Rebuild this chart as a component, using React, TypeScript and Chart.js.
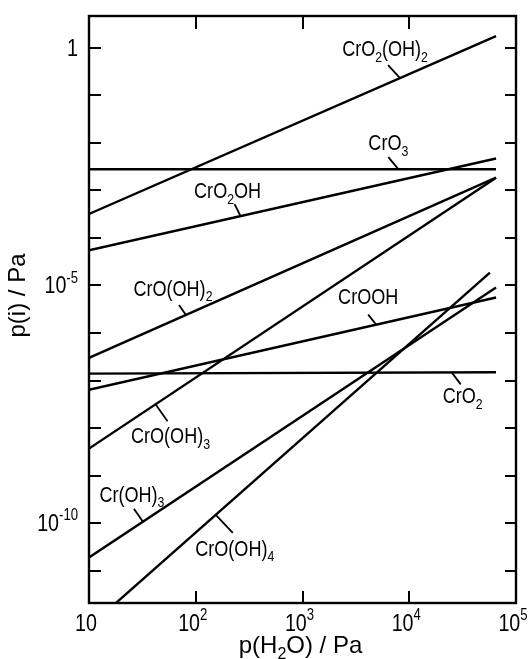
import { useEffect, useRef } from 'react';
import { Chart, registerables } from 'chart.js';
Chart.register(...registerables);

// ---- data ----
const pH2O = [10, 6.5e4];
const pH2OShort = [10, 5.7e4];

const speciesNames = [
  'CrO_2(OH)_2',
  'CrO_3',
  'CrO_2OH',
  'CrO(OH)_2',
  'CrOOH',
  'CrO_2',
  'CrO(OH)_3',
  'Cr(OH)_3',
  'CrO(OH)_4',
];
const pCrO2OH2 = [3.2e-4, 1.76];
const pCrO3 = [2.8e-3, 2.8e-3];
const pCrO2OH = [5.5e-5, 4.7e-3];
const pCrOOH2 = [3.0e-7, 1.86e-3];
const pCrOOH = [6.4e-8, 5.6e-6];
const pCrO2 = [1.4e-7, 1.5e-7];
const pCrOOH3 = [3.7e-9, 1.86e-3];
const pCrOH3 = [1.9e-11, 9.1e-6];
const pCrOOH4 = [6.6e-13, 1.86e-5];

const xTickValues = [10, 1e2, 1e3, 1e4, 1e5];
const xTickLabels = ['10', '10^2', '10^3', '10^4', '10^5'];
const xTickMarks = [1e2, 1e3, 1e4];
const yTickValues = [1, 1e-5, 1e-10];
const yTickLabels = ['1', '10^-5', '10^-10'];
const yTickMarks = [1, 1e-1, 1e-2, 1e-3, 1e-4, 1e-5, 1e-6, 1e-7, 1e-8, 1e-9, 1e-10, 1e-11];

const xTitle = 'p(H_2O) / Pa';
const yTitle = 'p(i) / Pa';

// ---- label layout (touch point on the line at pressure `at`; offsets in px) ----
const labelLayout = [
  { s: 0, at: 8.2e3, tx: -15, ty: -30, lx: -12, ly: -13 },
  { s: 1, at: 7.9e3, tx: -10, ty: -27, lx: -10, ly: -12 },
  { s: 2, at: 263, tx: -13, ty: -26, lx: -6, ly: -12 },
  { s: 3, at: 81, tx: -13, ty: -27, lx: -7, ly: -10 },
  { s: 4, at: 4.9e3, tx: -8, ty: -29, lx: -8, ly: -10 },
  { s: 5, at: 2.5e4, tx: 11, ty: 23, lx: 9, ly: 12 },
  { s: 6, at: 42, tx: 15, ty: 31, lx: 12, ly: 17 },
  { s: 7, at: 32, tx: -11, ty: -28, lx: -9, ly: -13 },
  { s: 8, at: 154, tx: 19, ty: 33, lx: 17, ly: 18 },
];

type Seg = { t: string; k: number };
function parseRich(s: string): Seg[] {
  const segs: Seg[] = [];
  let buf = '';
  let i = 0;
  while (i < s.length) {
    const c = s[i];
    if (c === '_') {
      if (buf) segs.push({ t: buf, k: 0 });
      buf = '';
      segs.push({ t: s[i + 1], k: -1 });
      i += 2;
      continue;
    }
    if (c === '^') {
      if (buf) segs.push({ t: buf, k: 0 });
      buf = '';
      segs.push({ t: s.slice(i + 1), k: 1 });
      break;
    }
    buf += c;
    i++;
  }
  if (buf) segs.push({ t: buf, k: 0 });
  return segs;
}

function drawRich(
  ctx: CanvasRenderingContext2D,
  s: string,
  x: number,
  baseline: number,
  size: number,
  align: 'left' | 'center' | 'right',
  family: string,
  sx: number
) {
  const segs = parseRich(s);
  const small = Math.round(size * 0.68);
  const fontFor = (k: number) => `${k === 0 ? size : small}px ${family}`;
  let w = 0;
  for (const sg of segs) {
    ctx.font = fontFor(sg.k);
    w += ctx.measureText(sg.t).width;
  }
  ctx.save();
  ctx.translate(x, baseline);
  ctx.scale(sx, 1);
  let cx = align === 'center' ? -w / 2 : align === 'right' ? -w : 0;
  ctx.textAlign = 'left';
  ctx.textBaseline = 'alphabetic';
  for (const sg of segs) {
    ctx.font = fontFor(sg.k);
    const dy = sg.k === -1 ? size * 0.25 : sg.k === 1 ? -size * 0.45 : 0;
    ctx.fillText(sg.t, cx, dy);
    cx += ctx.measureText(sg.t).width;
  }
  ctx.restore();
}

function pickFont(ctx: CanvasRenderingContext2D) {
  ctx.font = '40px "Liberation Sans Narrow", monospace';
  const a = ctx.measureText('CrOOH abc').width;
  ctx.font = '40px monospace';
  const b = ctx.measureText('CrOOH abc').width;
  if (Math.abs(a - b) < 0.01) return { family: '"Liberation Sans", Arial, sans-serif', sx: 0.82 };
  return { family: '"Liberation Sans Narrow", "Liberation Sans", sans-serif', sx: 1 };
}

const ink = '#000';

const decorPlugin = {
  id: 'decor',
  afterDatasetsDraw(chart: any) {
    const ctx: CanvasRenderingContext2D = chart.ctx;
    const { left, right, top, bottom } = chart.chartArea;
    const xs = chart.scales.x;
    const ys = chart.scales.y;
    const nf = pickFont(ctx);
    const regular = '"Liberation Sans", Arial, sans-serif';
    ctx.save();
    ctx.strokeStyle = ink;
    ctx.fillStyle = ink;
    ctx.lineWidth = 2.4;
    ctx.lineCap = 'butt';
    ctx.strokeRect(left, top, right - left, bottom - top);

    ctx.lineWidth = 2;
    ctx.beginPath();
    for (const v of yTickMarks) {
      const y = Math.round(ys.getPixelForValue(v));
      ctx.moveTo(left, y);
      ctx.lineTo(left + 12, y);
      ctx.moveTo(right, y);
      ctx.lineTo(right - 11, y);
    }
    for (const v of xTickMarks) {
      const x = Math.round(xs.getPixelForValue(v));
      ctx.moveTo(x, top);
      ctx.lineTo(x, top + 13);
      ctx.moveTo(x, bottom);
      ctx.lineTo(x, bottom - 12);
    }
    ctx.stroke();

    // tick labels
    xTickValues.forEach((v, i) => {
      const x = xs.getPixelForValue(v) - 3;
      drawRich(ctx, xTickLabels[i], x, bottom + 28, 24, 'center', nf.family, nf.sx);
    });
    yTickValues.forEach((v, i) => {
      const y = ys.getPixelForValue(v) - 1;
      drawRich(ctx, yTickLabels[i], 78, y + 9, 24, 'right', nf.family, nf.sx);
    });

    // axis titles
    drawRich(ctx, xTitle, xs.getPixelForValue(1e3) - 2, bottom + 50, 24, 'center', regular, 1);
    ctx.save();
    ctx.translate(25, ys.getPixelForValue(1e-5) + 10);
    ctx.rotate(-Math.PI / 2);
    drawRich(ctx, yTitle, 0, 0, 24, 'center', regular, 1);
    ctx.restore();

    // species labels with leader lines
    ctx.lineWidth = 1.8;
    for (const L of labelLayout) {
      const d = chart.data.datasets[L.s].data as { x: number; y: number }[];
      const lx0 = Math.log10(d[0].x);
      const lx1 = Math.log10(d[1].x);
      const t = (Math.log10(L.at) - lx0) / (lx1 - lx0);
      const ly = Math.log10(d[0].y) + t * (Math.log10(d[1].y) - Math.log10(d[0].y));
      const px = xs.getPixelForValue(L.at);
      const py = ys.getPixelForValue(Math.pow(10, ly));
      ctx.beginPath();
      ctx.moveTo(px, py);
      ctx.lineTo(px + L.lx, py + L.ly);
      ctx.stroke();
      drawRich(ctx, speciesNames[L.s], px + L.tx, py + L.ty + 8, 22, 'center', nf.family, nf.sx);
    }
    ctx.restore();
  },
};

export default function App() {
  const ref = useRef<HTMLCanvasElement>(null);
  useEffect(() => {
    if (!ref.current) return;
    const series = [pCrO2OH2, pCrO3, pCrO2OH, pCrOOH2, pCrOOH, pCrO2, pCrOOH3, pCrOH3, pCrOOH4];
    const datasets = series.map((vals, i) => {
      const xv = i === 8 ? pH2OShort : pH2O;
      return {
        label: speciesNames[i].replace(/_/g, ''),
        data: vals.map((y, j) => ({ x: xv[j], y })),
        borderColor: ink,
        borderWidth: 2.4,
        pointRadius: 0,
        fill: false,
        tension: 0,
      };
    });
    const chart = new Chart(ref.current, {
      type: 'line',
      data: { datasets },
      options: {
        animation: false,
        responsive: false,
        events: [],
        layout: { padding: { left: 89, top: 16, right: 15, bottom: 56 } },
        plugins: { legend: { display: false }, tooltip: { enabled: false } },
        scales: {
          x: { type: 'logarithmic', min: 10, max: 1e5, display: false },
          y: { type: 'logarithmic', min: Math.pow(10, -11.68), max: Math.pow(10, 0.67), display: false },
        },
      },
      plugins: [decorPlugin],
    } as any);
    return () => chart.destroy();
  }, []);
  return (
    <div style={{ position: 'fixed', left: 0, top: 0, width: 531, height: 659, background: '#fff' }}>
      <canvas ref={ref} width={531} height={659} style={{ display: 'block' }} />
    </div>
  );
}
